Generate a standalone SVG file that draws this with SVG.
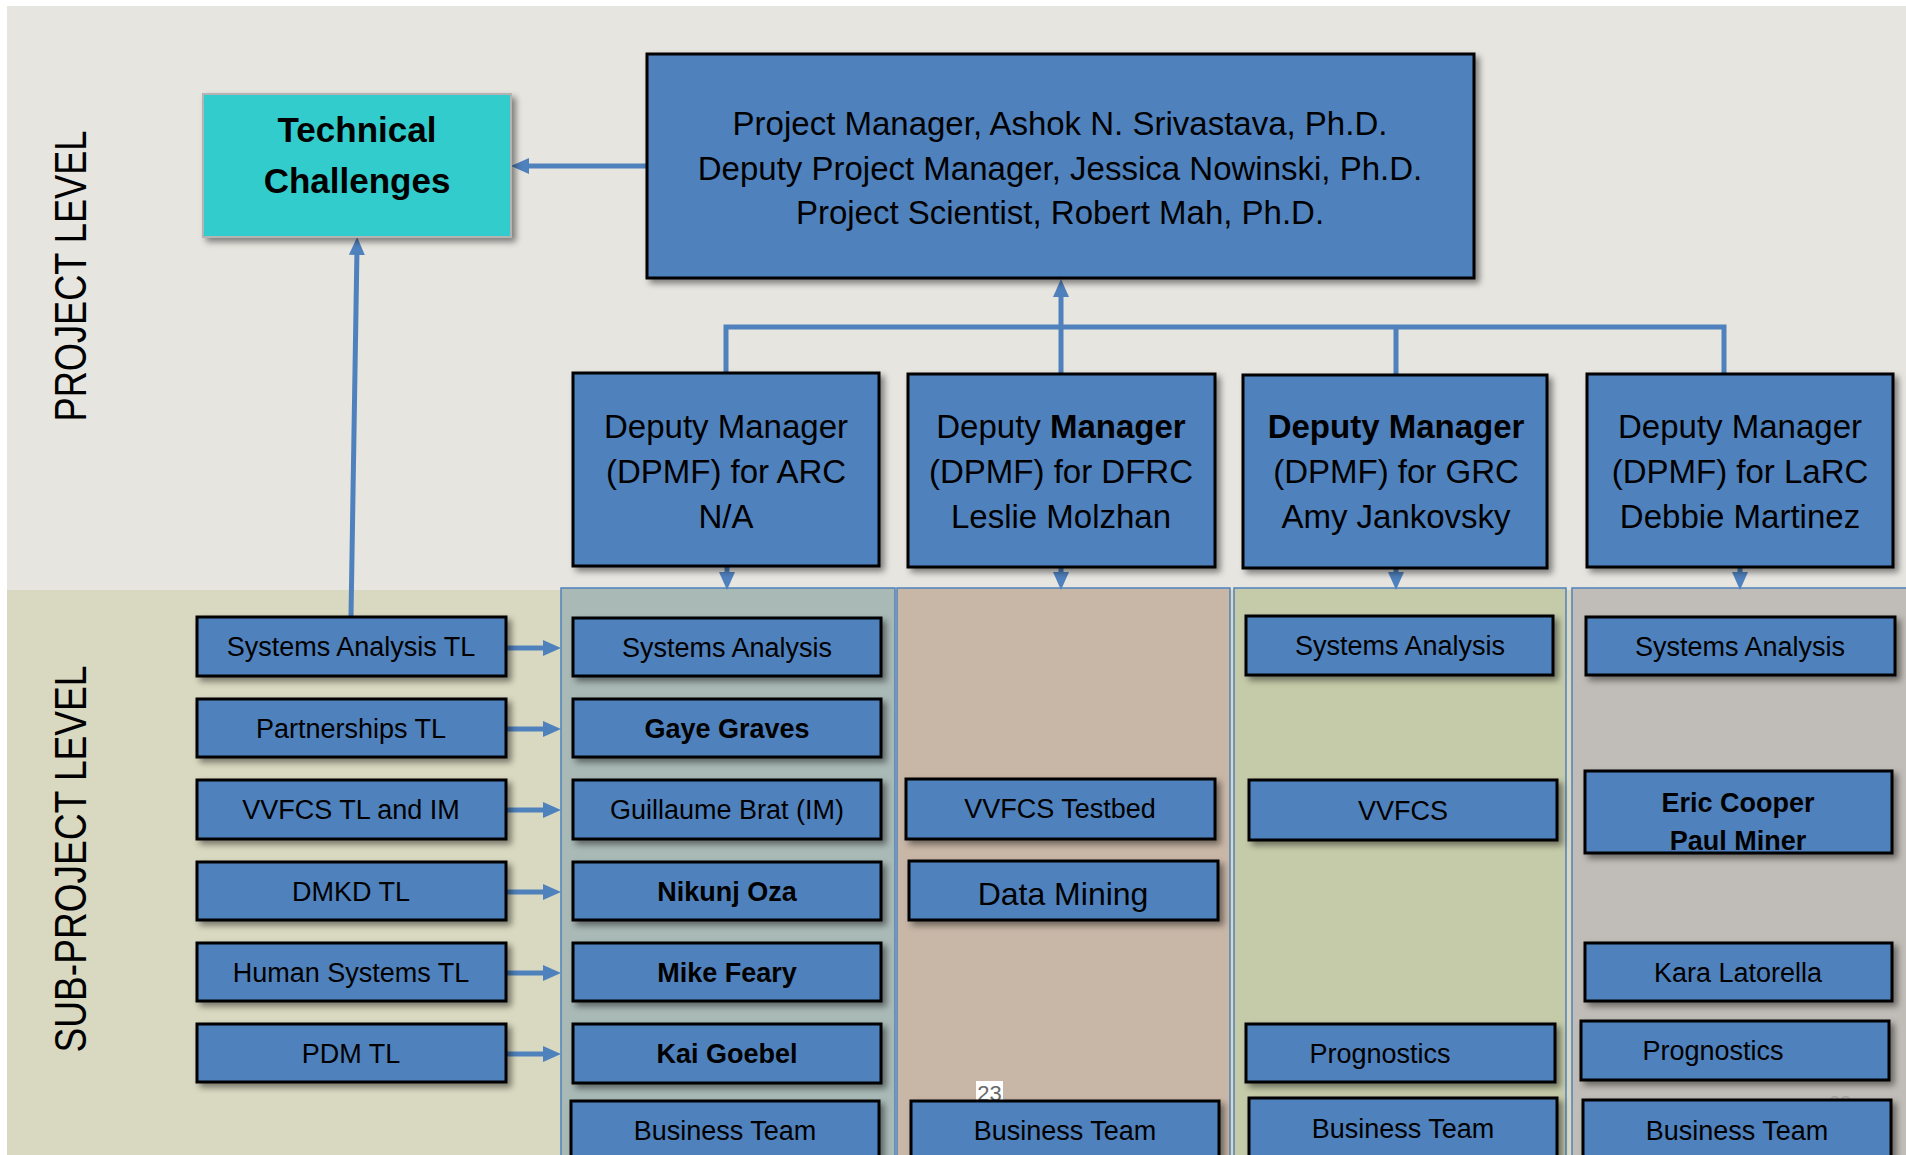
<svg xmlns="http://www.w3.org/2000/svg" width="1906" height="1155" viewBox="0 0 1906 1155">
<defs>
<style>
.box{fill:#4F81BD;stroke:#000;stroke-width:3;filter:url(#sh)}
.t{font-family:'Liberation Sans',Arial,sans-serif;fill:#000;text-anchor:middle}
.s27{font-size:27px}
.s33{font-size:33px}
.b{font-weight:bold}
.lane{stroke:#4F81BD;stroke-width:1.5}
.conn{stroke:#4F81BD;stroke-width:5;fill:none}
.arr{stroke:#4F81BD;stroke-width:5;fill:none;marker-end:url(#ah)}
</style>
<filter id="sh" x="-10%" y="-10%" width="130%" height="140%">
<feDropShadow dx="4" dy="4" stdDeviation="3" flood-color="#000" flood-opacity="0.45"/>
</filter>
<marker id="ah" viewBox="0 0 18 18" markerWidth="18" markerHeight="18" refX="7" refY="9" orient="auto" markerUnits="userSpaceOnUse">
<path d="M0,1 L18,9 L0,17 z" fill="#4F81BD"/>
</marker>
</defs>

<rect x="0" y="0" width="1906" height="1155" fill="#FFFFFF"/>
<rect x="7" y="6" width="1899" height="585" fill="#E7E5E0"/>
<rect x="7" y="590" width="1899" height="565" fill="#D9D8C0"/>

<g id="level-labels">
<text class="t" font-size="44" textLength="291" lengthAdjust="spacingAndGlyphs" transform="translate(86,276) rotate(-90)">PROJECT LEVEL</text>
<text class="t" font-size="44" textLength="387" lengthAdjust="spacingAndGlyphs" transform="translate(86,859) rotate(-90)">SUB-PROJECT LEVEL</text>
</g>

<g id="lanes">
<rect class="lane" x="561" y="588" width="334" height="580" fill="#A9B9B6"/>
<rect class="lane" x="897" y="588" width="333" height="580" fill="#C8B6A6"/>
<rect class="lane" x="1234" y="588" width="332" height="580" fill="#C5CBA9"/>
<rect class="lane" x="1572" y="588" width="340" height="580" fill="#C0BCB7"/>
</g>

<g id="connectors">
<path class="arr" d="M647,166 L522,166"/>
<path class="arr" d="M351,617 L357,248"/>
<path class="arr" d="M1061,374 L1061,290"/>
<path class="conn" d="M726,373 L726,327 L1724,327 L1724,374"/>
<path class="conn" d="M1396,327 L1396,375"/>
<path class="arr" d="M727,566 L727,579"/>
<path class="arr" d="M1061,567 L1061,579"/>
<path class="arr" d="M1396,568 L1396,579"/>
<path class="arr" d="M1740,567 L1740,579"/>
<path class="arr" d="M506,648 L550,648"/>
<path class="arr" d="M506,729 L550,729"/>
<path class="arr" d="M506,810 L550,810"/>
<path class="arr" d="M506,892 L550,892"/>
<path class="arr" d="M506,973 L550,973"/>
<path class="arr" d="M506,1054 L550,1054"/>
</g>

<g id="tech-challenges">
<rect x="203" y="94" width="308" height="143" fill="#33CCCC" stroke="#B4B4B4" stroke-width="2" filter="url(#sh)"/>
<text class="t b" font-size="35" x="357" y="142">Technical</text>
<text class="t b" font-size="35" x="357" y="193">Challenges</text>
</g>

<g id="project-manager">
<rect class="box" x="647" y="54" width="827" height="224"/>
<text class="t s33" x="1060" y="135">Project Manager, Ashok N. Srivastava, Ph.D.</text>
<text class="t s33" x="1060" y="180">Deputy Project Manager, Jessica Nowinski, Ph.D.</text>
<text class="t s33" x="1060" y="224">Project Scientist, Robert Mah, Ph.D.</text>
</g>

<g id="dpmf-arc">
<rect class="box" x="573" y="373" width="306" height="193"/>
<text class="t s33" x="726" y="438">Deputy Manager</text>
<text class="t s33" x="726" y="483">(DPMF) for ARC</text>
<text class="t s33" x="726" y="528">N/A</text>
</g>
<g id="dpmf-dfrc">
<rect class="box" x="908" y="374" width="307" height="193"/>
<text class="t s33" x="1061" y="438">Deputy <tspan class="b">Manager</tspan></text>
<text class="t s33" x="1061" y="483">(DPMF) for DFRC</text>
<text class="t s33" x="1061" y="528">Leslie Molzhan</text>
</g>
<g id="dpmf-grc">
<rect class="box" x="1243" y="375" width="304" height="193"/>
<text class="t s33 b" x="1396" y="438">Deputy Manager</text>
<text class="t s33" x="1396" y="483">(DPMF) for GRC</text>
<text class="t s33" x="1396" y="528">Amy Jankovsky</text>
</g>
<g id="dpmf-larc">
<rect class="box" x="1587" y="374" width="306" height="193"/>
<text class="t s33" x="1740" y="438">Deputy Manager</text>
<text class="t s33" x="1740" y="483">(DPMF) for LaRC</text>
<text class="t s33" x="1740" y="528">Debbie Martinez</text>
</g>

<g id="tl-systems-analysis"><rect class="box" x="197" y="617" width="309" height="59"/><text class="t s27" x="351" y="656">Systems Analysis TL</text></g>
<g id="tl-partnerships"><rect class="box" x="197" y="699" width="309" height="58"/><text class="t s27" x="351" y="738">Partnerships TL</text></g>
<g id="tl-vvfcs"><rect class="box" x="197" y="780" width="309" height="59"/><text class="t s27" x="351" y="819">VVFCS TL and IM</text></g>
<g id="tl-dmkd"><rect class="box" x="197" y="862" width="309" height="58"/><text class="t s27" x="351" y="901">DMKD TL</text></g>
<g id="tl-human-systems"><rect class="box" x="197" y="943" width="309" height="58"/><text class="t s27" x="351" y="982">Human Systems TL</text></g>
<g id="tl-pdm"><rect class="box" x="197" y="1024" width="309" height="58"/><text class="t s27" x="351" y="1063">PDM TL</text></g>

<g id="arc-systems-analysis"><rect class="box" x="573" y="618" width="308" height="58"/><text class="t s27" x="727" y="657">Systems Analysis</text></g>
<g id="arc-gaye-graves"><rect class="box" x="573" y="699" width="308" height="58"/><text class="t s27 b" x="727" y="738">Gaye Graves</text></g>
<g id="arc-guillaume-brat"><rect class="box" x="573" y="780" width="308" height="59"/><text class="t s27" x="727" y="819">Guillaume Brat (IM)</text></g>
<g id="arc-nikunj-oza"><rect class="box" x="573" y="862" width="308" height="58"/><text class="t s27 b" x="727" y="901">Nikunj Oza</text></g>
<g id="arc-mike-feary"><rect class="box" x="573" y="943" width="308" height="58"/><text class="t s27 b" x="727" y="982">Mike Feary</text></g>
<g id="arc-kai-goebel"><rect class="box" x="573" y="1024" width="308" height="59"/><text class="t s27 b" x="727" y="1063">Kai Goebel</text></g>
<g id="arc-business-team"><rect class="box" x="571" y="1101" width="308" height="70"/><text class="t s27" x="725" y="1140">Business Team</text></g>

<g id="dfrc-vvfcs-testbed"><rect class="box" x="906" y="779" width="309" height="60"/><text class="t s27" x="1060" y="818">VVFCS Testbed</text></g>
<g id="dfrc-data-mining"><rect class="box" x="909" y="861" width="309" height="59"/><text class="t" font-size="32" x="1063" y="905">Data Mining</text></g>
<g id="page-number-23">
<rect x="976" y="1081" width="27" height="20" fill="#FFFFFF"/>
<text x="989.5" y="1101" font-family="'Liberation Sans',Arial,sans-serif" font-size="22" fill="#6A6A6A" text-anchor="middle">23</text>
</g>
<g id="dfrc-business-team"><rect class="box" x="911" y="1101" width="308" height="70"/><text class="t s27" x="1065" y="1140">Business Team</text></g>

<g id="grc-systems-analysis"><rect class="box" x="1246" y="616" width="307" height="59"/><text class="t s27" x="1400" y="655">Systems Analysis</text></g>
<g id="grc-vvfcs"><rect class="box" x="1249" y="780" width="308" height="60"/><text class="t s27" x="1403" y="820">VVFCS</text></g>
<g id="grc-prognostics"><rect class="box" x="1246" y="1024" width="309" height="58"/><text class="t s27" x="1380" y="1063">Prognostics</text></g>
<g id="grc-business-team"><rect class="box" x="1249" y="1098" width="308" height="70"/><text class="t s27" x="1403" y="1138">Business Team</text></g>

<g id="larc-systems-analysis"><rect class="box" x="1586" y="617" width="309" height="58"/><text class="t s27" x="1740" y="656">Systems Analysis</text></g>
<g id="larc-cooper-miner"><rect class="box" x="1585" y="771" width="307" height="82"/><text class="t s27 b" x="1738" y="812">Eric Cooper</text><text class="t s27 b" x="1738" y="850">Paul Miner</text></g>
<g id="larc-kara-latorella"><rect class="box" x="1585" y="943" width="307" height="58"/><text class="t s27" x="1738" y="982">Kara Latorella</text></g>
<g id="larc-prognostics"><rect class="box" x="1581" y="1021" width="308" height="59"/><text class="t s27" x="1713" y="1060">Prognostics</text></g>
<text x="1840" y="1110" font-family="'Liberation Sans',Arial,sans-serif" font-size="20" fill="#A8A49F" text-anchor="middle">23</text>
<g id="larc-business-team"><rect class="box" x="1583" y="1100" width="308" height="70"/><text class="t s27" x="1737" y="1140">Business Team</text></g>
</svg>
